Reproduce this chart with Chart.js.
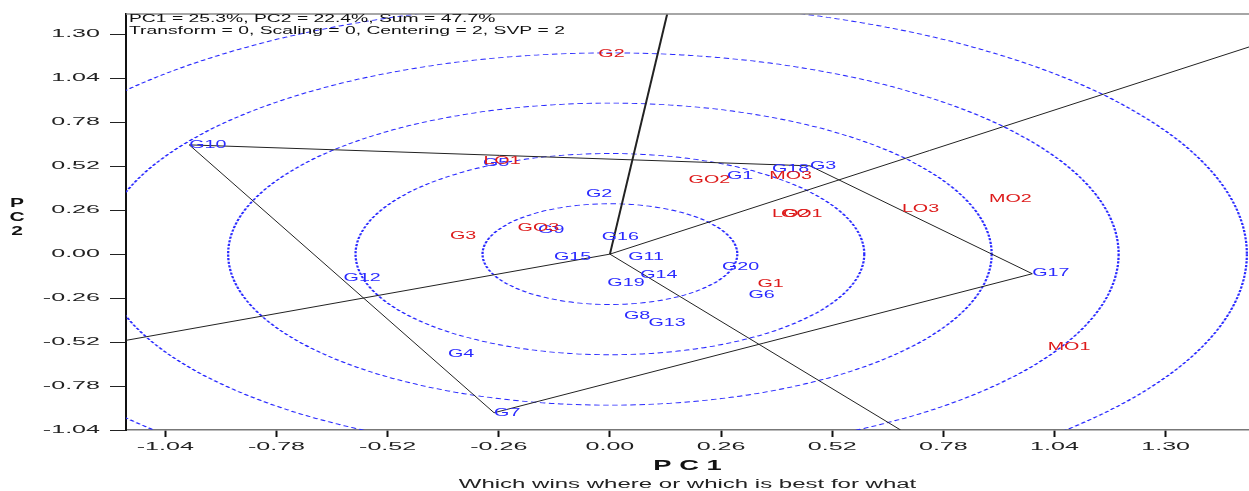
<!DOCTYPE html>
<html>
<head>
<meta charset="utf-8">
<title>GGE biplot - which wins where</title>
<script src="https://cdn.jsdelivr.net/npm/chart.js@4.4.1/dist/chart.umd.min.js"></script>
<style>
  html, body { margin: 0; padding: 0; background: #fff; }
  #wrap { width: 1249px; height: 491px; position: relative; }
</style>
</head>
<body>
<div id="wrap"><canvas id="biplot"></canvas></div>
<script>
// Genotype scores (blue labels)
const genoNames = ['G1', 'G2', 'G3', 'G4', 'G5', 'G6', 'G7', 'G8', 'G9', 'G10',
                   'G11', 'G12', 'G13', 'G14', 'G15', 'G16', 'G17', 'G18', 'G19', 'G20'];
const genoPC1 = [0.274, -0.056, 0.468, -0.379, -0.297, 0.324, -0.271, 0.033, -0.168, -0.984,
                 0.043, -0.623, 0.090, 0.071, -0.131, -0.019, 0.988, 0.379, -0.006, 0.262];
const genoPC2 = [0.463, 0.356, 0.522, -0.595, 0.540, -0.245, -0.938, -0.369, 0.144, 0.646,
                 -0.018, -0.142, -0.406, -0.124, -0.018, 0.100, -0.116, 0.504, -0.171, -0.079];

// Environment scores (red labels)
const envNames = ['G1', 'G2', 'G3', 'GO1', 'GO2', 'GO3', 'LO1', 'LO2', 'LO3', 'MO1', 'MO2', 'MO3'];
const envPC1 = [0.345, -0.027, -0.374, 0.400, 0.184, -0.216, -0.296, 0.379, 0.683, 1.024, 0.887, 0.373];
const envPC2 = [-0.176, 1.184, 0.104, 0.238, 0.439, 0.151, 0.548, 0.238, 0.266, -0.550, 0.327, 0.459];

// Convex hull of the vertex genotypes
const polygonVertices = ['G10', 'G3', 'G17', 'G7', 'G10'];

// Sector rays from the origin, to where they leave the plot
const rayPC1 = [0.134, 1.495, 0.680, -1.132];
const rayPC2 = [1.420, 1.225, -1.040, -0.510];

// Concentric circles around the origin
const circleRadii = [0.298, 0.595, 0.893, 1.19, 1.49];

const xTicks = [-1.04, -0.78, -0.52, -0.26, 0.00, 0.26, 0.52, 0.78, 1.04, 1.30];
const yTicks = [-1.04, -0.78, -0.52, -0.26, 0.00, 0.26, 0.52, 0.78, 1.04, 1.30];
const xRange = [-1.132, 1.495];
const yRange = [-1.04, 1.42];

const infoLines = ['PC1 = 25.3%, PC2 = 22.4%, Sum = 47.7%',
                   'Transform = 0, Scaling = 0, Centering = 2, SVP = 2'];

const FONT = "'Liberation Sans', Arial, sans-serif";
const BLUE = '#2a2aff';
const RED = '#dd1a1a';

// old biplot export is stretched sideways, so text gets a horizontal scale
function stretchText(ctx, text, x, y, font, sx, align, color) {
    ctx.save();
    ctx.font = font;
    ctx.fillStyle = color;
    ctx.textAlign = align;
    ctx.textBaseline = 'middle';
    ctx.translate(x, y);
    ctx.scale(sx, 1);
    ctx.fillText(text, 0, 0);
    ctx.restore();
}

const polygonPoints = polygonVertices.map(name => {
    const i = genoNames.indexOf(name);
    return { x: genoPC1[i], y: genoPC2[i] };
});

const datasets = [];

datasets.push({
    label: 'polygon',
    data: polygonPoints,
    showLine: true,
    borderColor: '#222',
    borderWidth: 1,
    pointRadius: 0
});

rayPC1.forEach((x, i) => {
    datasets.push({
        label: 'ray ' + (i + 1),
        data: [{ x: 0, y: 0 }, { x: x, y: rayPC2[i] }],
        showLine: true,
        borderColor: '#222',
        borderWidth: i === 0 ? 2 : 1,   // the steep ray looks heavier in the original
        pointRadius: 0
    });
});

datasets.push({
    label: 'Genotypes',
    data: genoPC1.map((x, i) => ({ x: x, y: genoPC2[i] })),
    names: genoNames,
    textColor: BLUE,
    pointRadius: 0
});

datasets.push({
    label: 'Environments',
    data: envPC1.map((x, i) => ({ x: x, y: envPC2[i] })),
    names: envNames,
    textColor: RED,
    pointRadius: 0
});

const biplotDecor = {
    id: 'biplotDecor',
    beforeDatasetsDraw(chart) {
        const { ctx, chartArea: area, scales: { x, y } } = chart;
        const cx = x.getPixelForValue(0);
        const cy = y.getPixelForValue(0);
        const ux = x.getPixelForValue(1) - cx;
        const uy = cy - y.getPixelForValue(1);

        ctx.save();
        ctx.beginPath();
        ctx.rect(area.left, area.top, area.right - area.left, area.bottom - area.top);
        ctx.clip();
        ctx.translate(cx, cy);
        ctx.scale(ux / uy, 1);
        ctx.strokeStyle = BLUE;
        ctx.lineWidth = 0.9;
        ctx.setLineDash([2.2, 1.4]);
        circleRadii.forEach(r => {
            ctx.beginPath();
            ctx.arc(0, 0, r * uy, 0, Math.PI * 2);
            ctx.stroke();
        });
        ctx.restore();
    },
    afterDatasetsDraw(chart) {
        const ctx = chart.ctx;
        chart.data.datasets.forEach((ds, i) => {
            if (!ds.names) return;
            chart.getDatasetMeta(i).data.forEach((pt, j) => {
                stretchText(ctx, ds.names[j], pt.x, pt.y, '10px ' + FONT, 1.97, 'left', ds.textColor);
            });
        });
    },
    afterDraw(chart) {
        const { ctx, chartArea: area, scales: { x, y } } = chart;

        // top frame line
        ctx.save();
        ctx.strokeStyle = '#888';
        ctx.lineWidth = 1.5;
        ctx.beginPath();
        ctx.moveTo(area.left, area.top);
        ctx.lineTo(area.right, area.top);
        ctx.stroke();
        ctx.restore();

        // tick labels
        y.ticks.forEach(t => {
            stretchText(ctx, t.value.toFixed(2), area.left - 26, y.getPixelForValue(t.value),
                        '11px ' + FONT, 2.28, 'right', '#222');
        });
        x.ticks.forEach(t => {
            stretchText(ctx, t.value.toFixed(2), x.getPixelForValue(t.value), area.bottom + 17,
                        '11px ' + FONT, 2.28, 'center', '#222');
        });

        // axis titles
        const midX = (area.left + area.right) / 2;
        stretchText(ctx, 'P C 1', midX, area.bottom + 36, 'bold 14px ' + FONT, 1.95, 'center', '#111');
        ['P', 'C', '2'].forEach((ch, i) => {
            stretchText(ctx, ch, 17, 204 + i * 14, 'bold 12px ' + FONT, 1.75, 'center', '#111');
        });
        stretchText(ctx, 'Which wins where or which is best for what', midX, area.bottom + 55,
                    '12px ' + FONT, 2.0, 'center', '#222');

        // info text in the corner
        infoLines.forEach((line, i) => {
            stretchText(ctx, line, area.left + 3, area.top + 5.5 + i * 11.5, '10px ' + FONT, 1.93, 'left', '#111');
        });
    }
};

const ctx = document.getElementById('biplot').getContext('2d');

const biplot = new Chart(ctx, {
    type: 'scatter',
    data: { datasets: datasets },
    options: {
        responsive: true,
        maintainAspectRatio: false,
        animation: false,
        events: [],
        layout: { padding: { top: 14, right: 0, bottom: 0, left: 0 } },
        scales: {
            x: {
                type: 'linear',
                min: xRange[0],
                max: xRange[1],
                afterBuildTicks: s => { s.ticks = xTicks.map(v => ({ value: v })); },
                afterFit: s => { s.height = 61; },
                ticks: { display: false },
                grid: {
                    display: true,
                    drawOnChartArea: false,
                    drawTicks: true,
                    tickLength: 7,
                    tickColor: '#111',
                    tickWidth: 2
                },
                border: { display: true, color: '#777', width: 1.5 }
            },
            y: {
                type: 'linear',
                min: yRange[0],
                max: yRange[1],
                afterBuildTicks: s => { s.ticks = yTicks.map(v => ({ value: v })); },
                afterFit: s => { s.width = 126; },
                ticks: { display: false },
                grid: {
                    display: true,
                    drawOnChartArea: false,
                    drawTicks: true,
                    tickLength: 16,
                    tickColor: '#222',
                    tickWidth: 1
                },
                border: { display: true, color: '#111', width: 2 }
            }
        },
        plugins: {
            legend: { display: false },
            tooltip: { enabled: false }
        }
    },
    plugins: [biplotDecor]
});
</script>
</body>
</html>
